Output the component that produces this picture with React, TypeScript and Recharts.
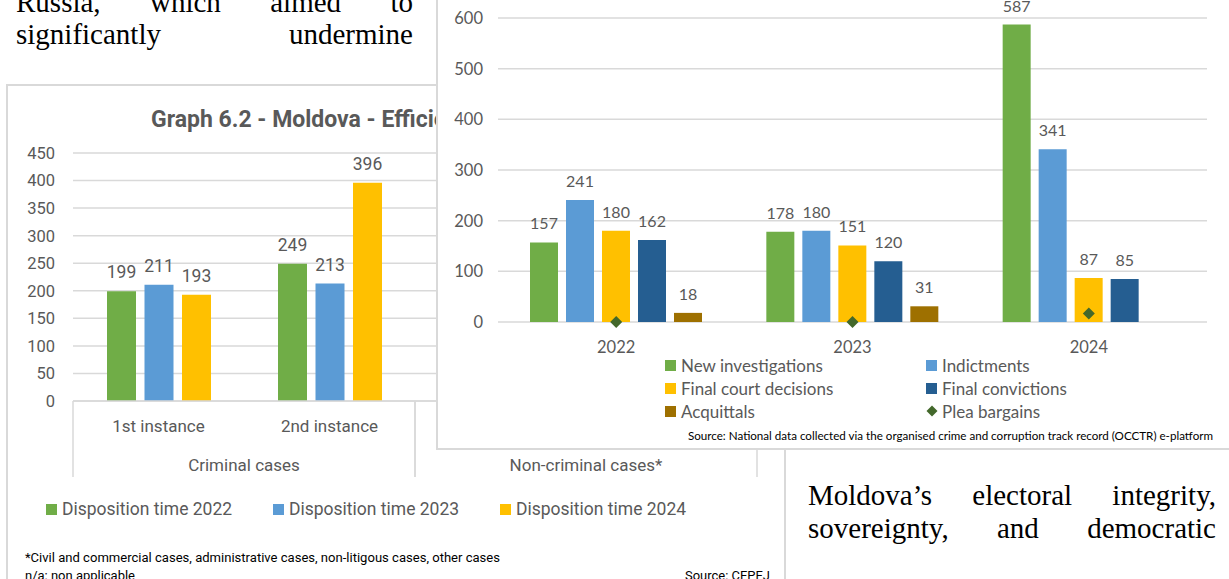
import { Bar, BarChart, CartesianGrid, ComposedChart, LabelList, Line, XAxis, YAxis } from "recharts";

// page text around the two charts
const topLines = ["Russia, which aimed to", "significantly undermine"];
const bottomLines = ["Moldova’s electoral integrity,", "sovereignty, and democratic"];

// Graph 6.2 (back chart) - non-criminal values are hidden behind the front chart
const instances = ["1st instance", "2nd instance", "1st instance", "2nd instance"];
const caseGroups = ["Criminal cases", "Criminal cases", "Non-criminal cases*", "Non-criminal cases*"];
const disposition2022 = [199, 249, null, null];
const disposition2023 = [211, 213, null, null];
const disposition2024 = [193, 396, null, null];
const dispositionTicks = [0, 50, 100, 150, 200, 250, 300, 350, 400, 450];

// OCCTR chart (front)
const years = ["2022", "2023", "2024"];
const newInvestigations = [157, 178, 587];
const indictments = [241, 180, 341];
const courtDecisions = [180, 151, 87];
const convictions = [162, 120, 85];
const acquittals = [18, 31, 0];
const pleaBargains = [0, 0, 17];
const occtrTicks = [0, 100, 200, 300, 400, 500, 600];

const GRAY = "#595959";
const GRID = "#d9d9d9";
const SANS_A = "Roboto, sans-serif";
const SANS_B = "Lato, sans-serif";

const dispSeries = [
  { key: "d2022", name: "Disposition time 2022", color: "#70AD47", values: disposition2022 },
  { key: "d2023", name: "Disposition time 2023", color: "#5B9BD5", values: disposition2023 },
  { key: "d2024", name: "Disposition time 2024", color: "#FFC000", values: disposition2024 },
];

const occtrBars = [
  { key: "inv", name: "New investigations", color: "#70AD47", values: newInvestigations },
  { key: "ind", name: "Indictments", color: "#5B9BD5", values: indictments },
  { key: "dec", name: "Final court decisions", color: "#FFC000", values: courtDecisions },
  { key: "conv", name: "Final convictions", color: "#255E91", values: convictions },
  { key: "acq", name: "Acquittals", color: "#9E7000", values: acquittals },
];
const plea = { key: "plea", name: "Plea bargains", color: "#43682B", values: pleaBargains };

const dispData = instances.map((sub, i) => {
  const row: any = { sub, grp: caseGroups[i] };
  dispSeries.forEach((s) => (row[s.key] = s.values[i]));
  return row;
});

const occtrData = years.map((year, i) => {
  const row: any = { year, [plea.key]: plea.values[i] };
  occtrBars.forEach((s) => (row[s.key] = s.values[i]));
  return row;
});

// single category axis: instance label per tick, group label + separators on each group's first tick
const TierTick = ({ x, y, payload }: any) => {
  const i = payload.index ?? instances.indexOf(payload.value);
  const half = payload.offset || 85.5;
  const firstOfGroup = i === 0 || caseGroups[i] !== caseGroups[i - 1];
  return (
    <g>
      <text x={x} y={y + 25} textAnchor="middle" dominantBaseline="central" fill={GRAY} fontSize={17} fontFamily={SANS_A}>
        {payload.value}
      </text>
      {firstOfGroup && (
        <>
          <line x1={x - half} x2={x - half} y1={y} y2={y + 76} stroke={GRID} strokeWidth={1.5} />
          <line x1={x + 3 * half} x2={x + 3 * half} y1={y} y2={y + 76} stroke={GRID} strokeWidth={1.5} />
          <text x={x + half} y={y + 64} textAnchor="middle" dominantBaseline="central" fill={GRAY} fontSize={17} fontFamily={SANS_A}>
            {caseGroups[i]}
          </text>
        </>
      )}
    </g>
  );
};

const YearTick = ({ x, y, payload }: any) => (
  <text x={x} y={y + 25} textAnchor="middle" dominantBaseline="central" fill={GRAY} fontSize={16.5} fontFamily={SANS_B}>
    {payload.value}
  </text>
);

const Diamond = (p: any) => {
  if (p.cx == null || p.cy == null) return <g key={p.index} />;
  const r = 6;
  return (
    <path
      key={p.index}
      d={`M${p.cx},${p.cy - r}L${p.cx + r},${p.cy}L${p.cx},${p.cy + r}L${p.cx - r},${p.cy}Z`}
      fill={plea.color}
    />
  );
};

function PageText() {
  const line = (text: string, left: number, top: number, width: number) => (
    <div
      key={text}
      style={{
        position: "absolute",
        left,
        top,
        width,
        height: 33,
        lineHeight: "33px",
        fontFamily: "'Liberation Serif', 'Times New Roman', serif",
        fontSize: 29,
        color: "#000",
        textAlign: "justify",
        textAlignLast: "justify",
        whiteSpace: "nowrap",
      }}
    >
      {text}
    </div>
  );
  return (
    <>
      {topLines.map((t, i) => line(t, 16, -14 + i * 32, 397))}
      {bottomLines.map((t, i) => line(t, 808, 479 + i * 33, 408))}
    </>
  );
}

function DispositionChart() {
  return (
    <>
      <div
        style={{
          position: "absolute",
          left: 6,
          top: 84,
          width: 780,
          height: 540,
          boxSizing: "border-box",
          border: `2px solid ${GRID}`,
          background: "#fff",
        }}
      />
      <div
        style={{
          position: "absolute",
          left: 151,
          top: 106,
          height: 28,
          lineHeight: "28px",
          fontFamily: SANS_A,
          fontWeight: 700,
          fontSize: 23,
          color: GRAY,
          whiteSpace: "nowrap",
        }}
      >
        Graph 6.2 - Moldova - Efficiency of justice (disposition time in days)
      </div>
      <div style={{ position: "absolute", left: 7, top: 85 }}>
        <BarChart
          width={778}
          height={400}
          data={dispData}
          margin={{ top: 68, right: 28, bottom: 8, left: 0 }}
          barSize={29}
          barGap={8.5}
        >
          <CartesianGrid vertical={false} stroke={GRID} strokeWidth={1.5} />
          <XAxis
            dataKey="sub"
            height={76}
            interval={0}
            tickLine={false}
            tickSize={0}
            tickMargin={0}
            axisLine={{ stroke: GRID, strokeWidth: 1.5 }}
            tick={<TierTick />}
          />
          <YAxis
            width={66}
            domain={[0, 450]}
            ticks={dispositionTicks}
            interval={0}
            tickLine={false}
            axisLine={false}
            tickMargin={12}
            tick={{ fill: GRAY, fontSize: 16.5, fontFamily: SANS_A }}
          />
          {dispSeries.map((s) => (
            <Bar key={s.key} dataKey={s.key} name={s.name} fill={s.color} isAnimationActive={false}>
              <LabelList dataKey={s.key} position="top" offset={13} fill={GRAY} fontSize={17.5} fontFamily={SANS_A} />
            </Bar>
          ))}
        </BarChart>
      </div>
      {dispSeries.map((s, i) => (
        <div
          key={s.key}
          style={{
            position: "absolute",
            left: 46 + i * 227,
            top: 498,
            height: 22,
            display: "flex",
            alignItems: "center",
            fontFamily: SANS_A,
            fontSize: 17.5,
            color: GRAY,
            whiteSpace: "nowrap",
          }}
        >
          <span style={{ width: 11, height: 11, background: s.color, marginRight: 5, display: "inline-block" }} />
          {s.name}
        </div>
      ))}
      <svg style={{ position: "absolute", left: 0, top: 0 }} width={1229} height={579}>
        <text x={25} y={562} fontSize={12.5} fontFamily={SANS_A} fill="#000" textLength={475} lengthAdjust="spacingAndGlyphs">
          *Civil and commercial cases, administrative cases, non-litigous cases, other cases
        </text>
        <text x={25} y={580} fontSize={12.5} fontFamily={SANS_A} fill="#000" textLength={110} lengthAdjust="spacingAndGlyphs">
          n/a: non applicable
        </text>
        <text x={685} y={580} fontSize={12.5} fontFamily={SANS_A} fill="#000" textLength={85} lengthAdjust="spacingAndGlyphs">
          Source: CEPEJ
        </text>
      </svg>
    </>
  );
}

function OcctrChart() {
  const legendItems = [...occtrBars, plea];
  return (
    <>
      <div
        style={{
          position: "absolute",
          left: 436,
          top: -10,
          width: 820,
          height: 460,
          boxSizing: "border-box",
          border: `2px solid ${GRID}`,
          background: "#fff",
        }}
      />
      <div style={{ position: "absolute", left: 437, top: 0 }}>
        <ComposedChart
          width={792}
          height={360}
          data={occtrData}
          margin={{ top: 18, right: 22, bottom: 0, left: 0 }}
          barSize={28}
          barGap={8}
        >
          <CartesianGrid vertical={false} stroke={GRID} strokeWidth={1.5} />
          <XAxis
            dataKey="year"
            height={38}
            tickLine={false}
            tickSize={0}
            tickMargin={0}
            axisLine={false}
            tick={<YearTick />}
          />
          <YAxis
            width={61}
            domain={[0, 600]}
            ticks={occtrTicks}
            interval={0}
            tickLine={false}
            axisLine={false}
            tickMargin={9}
            tick={{ fill: GRAY, fontSize: 16.5, fontFamily: SANS_B }}
          />
          {occtrBars.map((s) => (
            <Bar key={s.key} dataKey={s.key} name={s.name} fill={s.color} isAnimationActive={false}>
              <LabelList dataKey={s.key} position="top" offset={13} fill={GRAY} fontSize={16} fontFamily={SANS_B} />
            </Bar>
          ))}
          <Line
            dataKey={plea.key}
            name={plea.name}
            stroke="none"
            dot={Diamond}
            activeDot={false}
            isAnimationActive={false}
          />
        </ComposedChart>
      </div>
      {legendItems.map((s, i) => (
        <div
          key={s.key}
          style={{
            position: "absolute",
            left: i % 2 === 0 ? 665 : 926,
            top: 354 + Math.floor(i / 2) * 23,
            height: 22,
            display: "flex",
            alignItems: "center",
            fontFamily: SANS_B,
            fontSize: 17,
            color: GRAY,
            whiteSpace: "nowrap",
          }}
        >
          {s.key === plea.key ? (
            <svg width={12} height={12} style={{ marginRight: 4 }}>
              <path d="M6,0.5L11.5,6L6,11.5L0.5,6Z" fill={s.color} />
            </svg>
          ) : (
            <span style={{ width: 11, height: 11, background: s.color, marginRight: 5, display: "inline-block" }} />
          )}
          {s.name}
        </div>
      ))}
      <svg style={{ position: "absolute", left: 0, top: 0 }} width={1229} height={579}>
        <text x={688} y={440} fontSize={11} fontFamily={SANS_B} fill="#000" textLength={525} lengthAdjust="spacingAndGlyphs">
          Source: National data collected via the organised crime and corruption track record (OCCTR) e-platform
        </text>
      </svg>
    </>
  );
}

export default function App() {
  return (
    <div
      style={{
        position: "absolute",
        left: 0,
        top: 0,
        width: 1229,
        height: 579,
        overflow: "hidden",
        background: "#fff",
      }}
    >
      <PageText />
      <DispositionChart />
      <OcctrChart />
    </div>
  );
}
